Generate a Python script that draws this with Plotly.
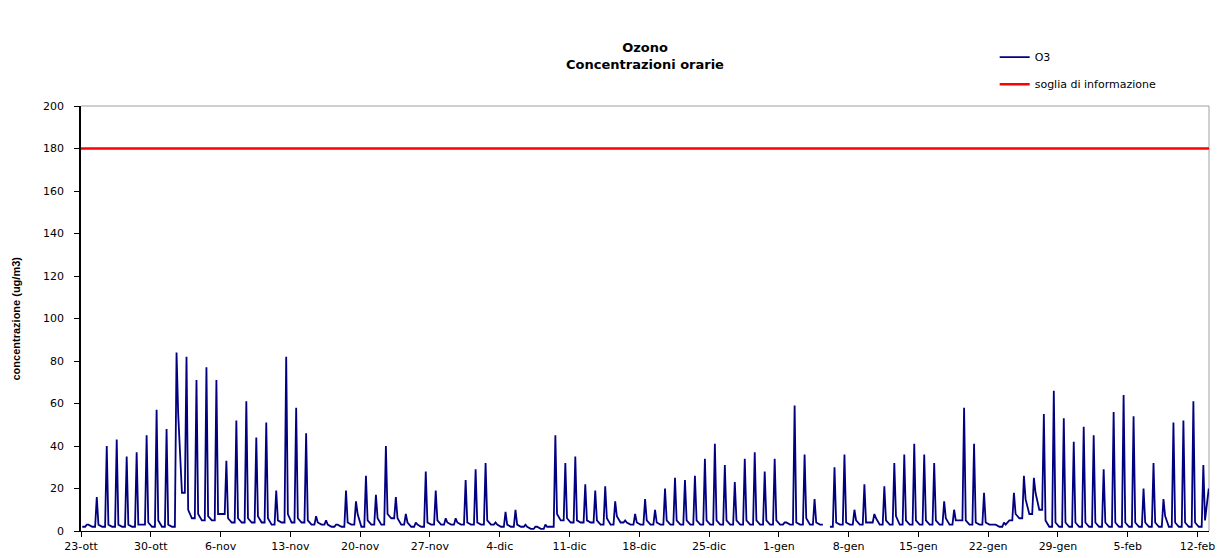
import pandas as pd
import plotly.graph_objects as go

# ---- data ----
start_date = "2006-10-23"

# daily afternoon maximum (ug/m3), one value per day from 23-ott
peak = [3, 16, 40, 43, 35, 37, 45, 57, 48, 84,
        82, 71, 77, 71, 33, 52, 61, 44, 51, 19,
        82, 58, 46, 7, 5, 3, 19, 14, 26, 17,
        40, 16, 8, 4, 28, 19, 6, 6, 24, 29,
        32, 4, 9, 10, 3, 2, 3, 45, 32, 35,
        22, 19, 21, 14, 5, 8, 15, 10, 20, 25,
        24, 26, 34, 41, 31, 23, 34, 37, 28, 34,
        4, 59, 36, 15, None, 30, 36, 10, 22, 8,
        21, 32, 36, 41, 36, 32, 14, 10, 58, 41,
        18, 3, 4, 18, 26, 25, 55, 66, 53, 42,
        49, 45, 29, 56, 64, 54, 20, 32, 15, 51,
        52, 61, 31]

# night / morning level of each day (last entry: start of the final partial day)
base = [2, 2, 2, 2, 2, 2, 3, 2, 2, 2,
        18, 6, 5, 5, 8, 4, 4, 4, 4, 3,
        4, 4, 4, 3, 3, 2, 2, 3, 2, 3,
        3, 6, 3, 2, 2, 3, 3, 3, 3, 3,
        3, 3, 2, 2, 2, 1, 1, 2, 5, 4,
        4, 4, 3, 3, 4, 3, 3, 3, 3, 3,
        3, 3, 3, 3, 3, 3, 3, 3, 3, 3,
        3, 3, 3, 3, 3, 2, 3, 3, 3, 4,
        3, 3, 3, 3, 3, 3, 3, 3, 5, 3,
        3, 3, 2, 5, 6, 8, 10, 2, 2, 2,
        2, 2, 2, 2, 2, 2, 2, 2, 2, 2,
        2, 2, 2, 20]

# evening level after the daily maximum
eve = [3, 3, 3, 3, 3, 3, 4, 5, 3, 55,
       10, 8, 7, 8, 6, 6, 6, 7, 6, 5,
       8, 6, 5, 4, 3, 3, 4, 8, 5, 6,
       8, 6, 4, 3, 4, 5, 4, 4, 4, 4,
       5, 3, 3, 3, 2, 2, 2, 8, 6, 5,
       5, 5, 6, 7, 4, 4, 5, 4, 5, 5,
       5, 5, 5, 5, 5, 5, 5, 5, 5, 5,
       4, 4, 6, 4, None, 4, 4, 5, 4, 6,
       5, 7, 5, 5, 5, 5, 6, 5, 5, 4,
       4, 3, 3, 8, 15, 18, 5, 4, 4, 4,
       4, 4, 4, 4, 4, 4, 4, 4, 7, 4,
       4, 4, 5]

threshold = 180

tick_dates = ["2006-10-23", "2006-10-30", "2006-11-06", "2006-11-13", "2006-11-20",
              "2006-11-27", "2006-12-04", "2006-12-11", "2006-12-18", "2006-12-25",
              "2007-01-01", "2007-01-08", "2007-01-15", "2007-01-22", "2007-01-29",
              "2007-02-05", "2007-02-12"]
tick_labels = ["23-ott", "30-ott", "6-nov", "13-nov", "20-nov", "27-nov", "4-dic",
               "11-dic", "18-dic", "25-dic", "1-gen", "8-gen", "15-gen", "22-gen",
               "29-gen", "5-feb", "12-feb"]

# ---- build the time series ----
t0 = pd.Timestamp(start_date)
times, vals = [], []
for i in range(len(peak)):
    day = t0 + pd.Timedelta(days=i)
    for h, v in ((3, base[i]), (10, base[i]), (14, peak[i]), (18, eve[i])):
        times.append(day + pd.Timedelta(hours=h))
        vals.append(v)
last_day = t0 + pd.Timedelta(days=len(peak))
times.append(last_day + pd.Timedelta(hours=3))
vals.append(base[-1])

x_start = t0
x_end = last_day + pd.Timedelta(hours=3.6)

fig = go.Figure()
fig.add_trace(go.Scatter(
    x=times, y=vals, mode="lines", name="O3",
    line=dict(color="#000080", width=1.8), legendgroup="a",
    connectgaps=False))
fig.add_trace(go.Scatter(
    x=[x_start, x_end], y=[threshold, threshold], mode="lines",
    name="soglia di informazione",
    line=dict(color="#FF0000", width=2.5), legendgroup="b"))

fig.update_layout(
    width=1210, height=550,
    margin=dict(l=73, r=9, t=98, b=27, autoexpand=False),
    paper_bgcolor="white", plot_bgcolor="white",
    font=dict(family="DejaVu Sans", color="black", size=11),
    title=dict(text="<b>Ozono</b><br><b>Concentrazioni orarie</b>",
               x=0.5, xref="paper", xanchor="center",
               y=1 - 44 / 550, yref="container", yanchor="middle",
               font=dict(family="DejaVu Sans", size=13, color="black"),
               automargin=False),
    legend=dict(x=0.81, y=1.149, xanchor="left", yanchor="top",
                font=dict(family="DejaVu Sans", size=11, color="black"),
                tracegroupgap=8, bgcolor="rgba(0,0,0,0)"),
    showlegend=True,
    xaxis=dict(type="date", range=[x_start, x_end], automargin=False,
               tickvals=tick_dates, ticktext=tick_labels,
               ticks="outside", ticklen=5, tickcolor="black",
               showline=True, linecolor="black", linewidth=1,
               showgrid=False, zeroline=False,
               tickfont=dict(size=11, color="black")),
    yaxis=dict(range=[0, 200], tick0=0, dtick=20, automargin=False,
               ticks="outside", ticklen=5, tickcolor="black",
               showline=True, linecolor="black", linewidth=1.5,
               showgrid=False, zeroline=False, ticklabelstandoff=8,
               tickfont=dict(size=11, color="black")),
    shapes=[
        dict(type="line", xref="paper", yref="paper", x0=0, x1=1, y0=1, y1=1,
             line=dict(color="#A0A0A0", width=1), layer="below"),
        dict(type="line", xref="paper", yref="paper", x0=1, x1=1, y0=0, y1=1,
             line=dict(color="#A0A0A0", width=1), layer="below"),
    ],
    annotations=[
        dict(text="<b>concentrazione (ug/m3)</b>", textangle=-90,
             xref="paper", yref="paper", x=(7 - 73) / 1128, y=0.5,
             xanchor="center", yanchor="middle", showarrow=False,
             font=dict(family="Liberation Sans", size=11, color="black")),
    ],
)

fig.write_html("out.html")
